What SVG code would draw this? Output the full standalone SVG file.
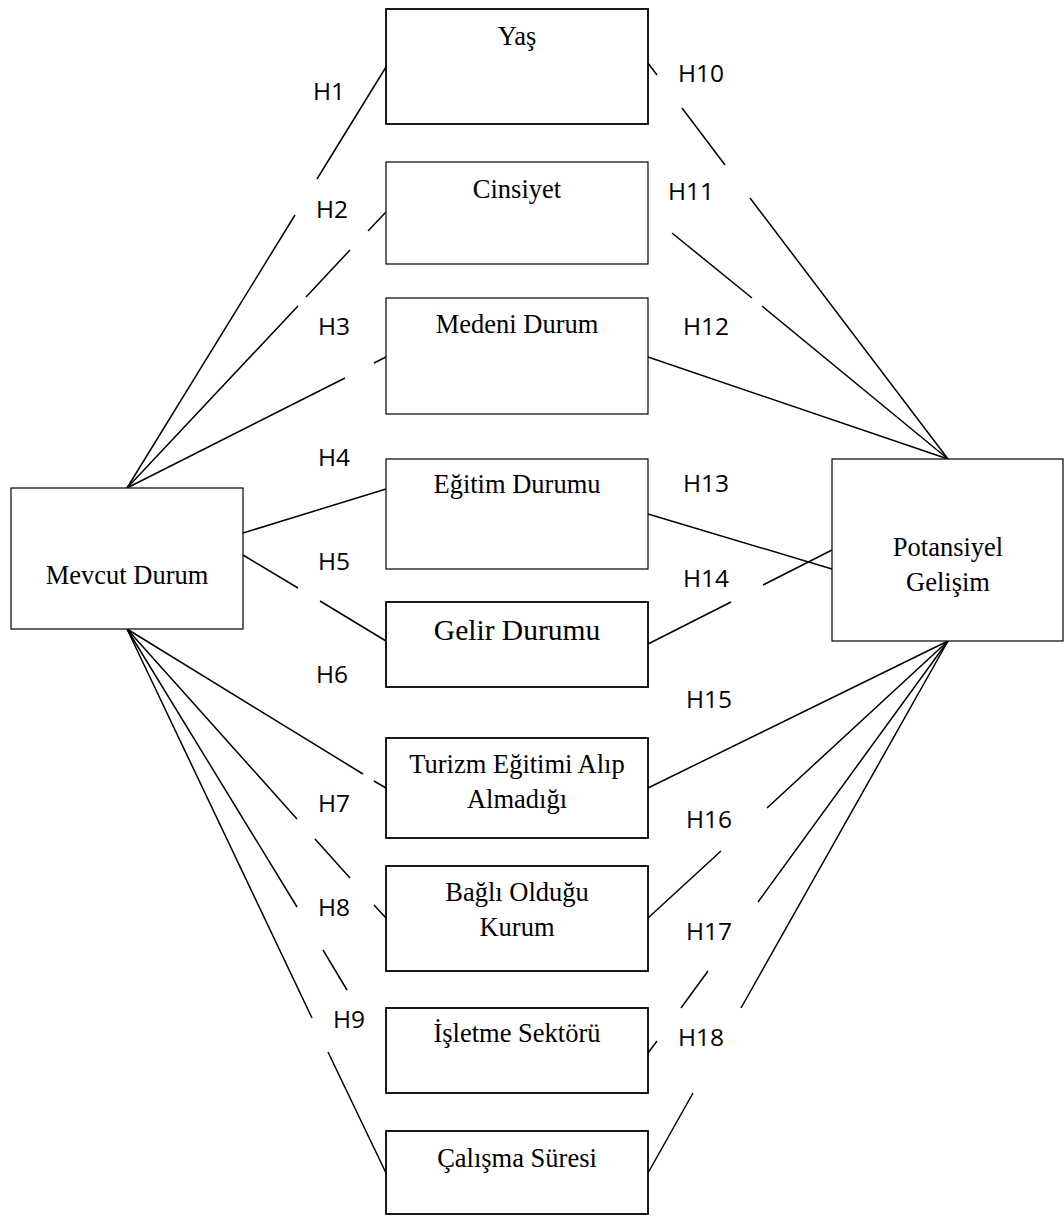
<svg xmlns="http://www.w3.org/2000/svg" width="1064" height="1216" viewBox="0 0 1064 1216">
<style>
  .box { fill: #ffffff; stroke: #000000; stroke-width: 1.2; }
  .thick { stroke-width: 1.8; }
  .node { font-family: "Liberation Serif", "Times New Roman", serif; font-size: 26.5px; fill: #000000; text-anchor: middle; }
  .lbl { font-family: "Open Sans", "Liberation Sans", sans-serif; font-size: 24.5px; fill: #000000; }
  .con { fill: none; stroke: #000000; stroke-width: 1.5; }
</style>
<rect width="1064" height="1216" fill="#ffffff"/>

<g id="connectors">
  <!-- left upper: from Mevcut Durum top center -->
  <path class="con" d="M386,67 L317,179 M295,215 L127,488"/>
  <path class="con" d="M386,212 L368,231 M350,250 L306,297 M298,306 L127,488"/>
  <path class="con" d="M127,488 L345,378 M374,363 L386,357"/>
  <path class="con" d="M243,533 L386,489"/>
  <path class="con" d="M243,555 L298,588 M320,601 L386,641"/>
  <!-- left lower: from Mevcut Durum bottom center -->
  <path class="con" d="M127,629 L363,774 M374,781 L386,788"/>
  <path class="con" d="M127,629 L297,819 M315,839 L350,878 M374,905 L386,918"/>
  <path class="con" d="M127,629 L297,907 M323,950 L347,990"/>
  <path class="con" d="M127,629 L312,1018 M328,1052 L386,1173"/>
  <!-- right upper: to Potansiyel Gelisim top center -->
  <path class="con" d="M648,63 L657,75 M682,108 L725,165 M750,198 L948,459"/>
  <path class="con" d="M672,233 L752,298 M762,306 L948,459"/>
  <path class="con" d="M648,357 L948,459"/>
  <path class="con" d="M648,514 L832,569"/>
  <path class="con" d="M648,644 L731,602 M763,585 L832,550"/>
  <!-- right lower: from Potansiyel Gelisim bottom center -->
  <path class="con" d="M948,641 L648,788"/>
  <path class="con" d="M948,641 L767,808 M721,851 L648,918"/>
  <path class="con" d="M948,641 L758,902 M708,971 L681,1008 M657,1041 L648,1053"/>
  <path class="con" d="M948,641 L741,1008 M693,1093 L648,1173"/>
</g>

<g id="node-mevcut">
  <rect class="box" x="11" y="488" width="232" height="141"/>
  <text class="node" x="127" y="584">Mevcut Durum</text>
</g>
<g id="node-potansiyel">
  <rect class="box" x="832" y="459" width="231" height="182"/>
  <text class="node" x="948" y="556">Potansiyel</text>
  <text class="node" x="948" y="591">Gelişim</text>
</g>

<g id="node-yas">
  <rect class="box thick" x="386" y="9" width="262" height="115"/>
  <text class="node" x="517" y="45">Yaş</text>
</g>
<g id="node-cinsiyet">
  <rect class="box" x="386" y="162" width="262" height="102"/>
  <text class="node" x="517" y="198">Cinsiyet</text>
</g>
<g id="node-medeni">
  <rect class="box" x="386" y="298" width="262" height="116"/>
  <text class="node" x="517" y="333">Medeni Durum</text>
</g>
<g id="node-egitim">
  <rect class="box" x="386" y="459" width="262" height="110"/>
  <text class="node" x="517" y="493">Eğitim Durumu</text>
</g>
<g id="node-gelir">
  <rect class="box thick" x="386" y="602" width="262" height="85"/>
  <text class="node" x="517" y="640" style="font-size:29.5px">Gelir Durumu</text>
</g>
<g id="node-turizm">
  <rect class="box thick" x="386" y="738" width="262" height="100"/>
  <text class="node" x="517" y="773">Turizm Eğitimi Alıp</text>
  <text class="node" x="517" y="808">Almadığı</text>
</g>
<g id="node-bagli">
  <rect class="box thick" x="386" y="866" width="262" height="105"/>
  <text class="node" x="517" y="901">Bağlı Olduğu</text>
  <text class="node" x="517" y="936">Kurum</text>
</g>
<g id="node-isletme">
  <rect class="box thick" x="386" y="1008" width="262" height="85"/>
  <text class="node" x="517" y="1042">İşletme Sektörü</text>
</g>
<g id="node-calisma">
  <rect class="box thick" x="386" y="1131" width="262" height="83"/>
  <text class="node" x="517" y="1167">Çalışma Süresi</text>
</g>

<g id="labels">
  <text class="lbl" x="313" y="100">H1</text>
  <text class="lbl" x="316" y="218">H2</text>
  <text class="lbl" x="318" y="335">H3</text>
  <text class="lbl" x="318" y="466">H4</text>
  <text class="lbl" x="318" y="570">H5</text>
  <text class="lbl" x="316" y="683">H6</text>
  <text class="lbl" x="318" y="812">H7</text>
  <text class="lbl" x="318" y="916">H8</text>
  <text class="lbl" x="333" y="1028">H9</text>
  <text class="lbl" x="678" y="82">H10</text>
  <text class="lbl" x="668" y="200">H11</text>
  <text class="lbl" x="683" y="335">H12</text>
  <text class="lbl" x="683" y="492">H13</text>
  <text class="lbl" x="683" y="587">H14</text>
  <text class="lbl" x="686" y="708">H15</text>
  <text class="lbl" x="686" y="828">H16</text>
  <text class="lbl" x="686" y="940">H17</text>
  <text class="lbl" x="678" y="1046">H18</text>
</g>
</svg>
